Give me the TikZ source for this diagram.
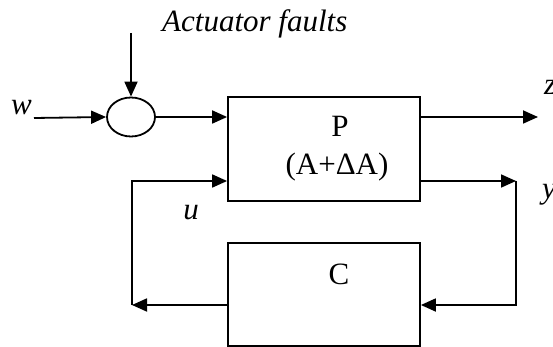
\documentclass[tikz,border=0pt]{standalone}
\usepackage{fontspec}
\setmainfont{Liberation Serif}
\usetikzlibrary{arrows.meta,shapes.geometric}
\begin{document}
\begin{tikzpicture}[x=1pt,y=-1pt,
  conn/.style={line width=1.8pt},
  arr/.style={conn,-{Triangle[length=15pt,width=13pt]}},
  blk/.style={draw,line width=1.8pt,rectangle,inner sep=0pt},
  txt/.style={inner sep=0pt,anchor=base,font=\fontsize{31}{37}\selectfont},
  itxt/.style={txt,font=\fontsize{31}{37}\selectfont\itshape}]
\useasboundingbox (0,0) rectangle (553,347);
% blocks
\node[blk,minimum width=192pt,minimum height=104pt] (P) at (324,149) {};
\node[blk,minimum width=192pt,minimum height=103pt] (C) at (324,294.5) {};
\node[draw,line width=1.8pt,ellipse,minimum width=48pt,minimum height=39pt,inner sep=0pt] (S) at (131,117) {};
% texts
\node[txt] (Ptext) at (340,137) {P};
\node[txt] (PAtext) at (337,175) {(A+ΔA)};
\node[txt] (Ctext) at (339,284) {C};
\node[itxt,anchor=base west] (flt) at (162,32) {Actuator faults};
\node[itxt,anchor=base west] (wl) at (11,115) {w};
\node[itxt] (ul) at (191,219) {u};
\node[itxt,anchor=base west] (zl) at (544,95) {z};
\node[itxt,anchor=base west] (yl) at (542,198) {y};
% coordinates
\coordinate (ftop) at (131,33);
\coordinate (win) at (34,118);
\coordinate (zend) at (538,117);
\coordinate (yc) at (516,181);
\coordinate (yb) at (516,305);
\coordinate (ub) at (132,305);
\coordinate (ut) at (132,181);
% connectors
\draw[arr] (ftop) -- (S.north);
\draw[arr] (win) -- (S.west);
\draw[arr] (S.east) -- (S.east -| P.west);
\draw[arr] (zend -| P.east) -- (zend);
\draw[arr] (yc -| P.east) -- (yc);
\draw[arr] (yc) -- (yb) -- (yb -| C.east);
\draw[arr] (ub -| C.west) -- (ub);
\draw[arr] (ub) -- (ut) -- (ut -| P.west);
\end{tikzpicture}
\end{document}
